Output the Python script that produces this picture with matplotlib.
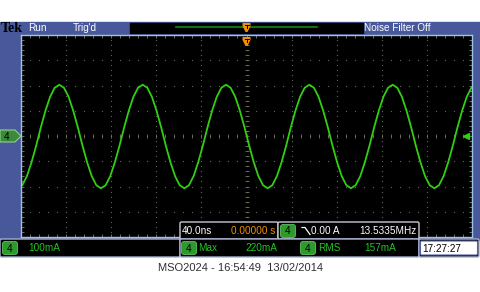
import numpy as np
import matplotlib.pyplot as plt
from matplotlib.patches import FancyBboxPatch, Rectangle, Polygon

# scope settings
ns_per_div = 40.0
ma_per_div = 100
n_xdiv = 10
n_ydiv = 8

# channel 4 trace, sampled every 1/18 of a period (mA)
t_start = -198.85
t_step = 4.106
trace_ma = [
    -195, -159, -104, -38, 34, 100, 155, 191, 203, 191, 155, 100, 34, -38, -104, -159, -195, -207,
    -195, -159, -104, -38, 34, 100, 155, 191, 203, 191, 155, 100, 34, -38, -104, -159, -195, -207,
    -195, -159, -104, -38, 34, 100, 155, 191, 203, 191, 155, 100, 34, -38, -104, -159, -195, -207,
    -195, -159, -104, -38, 34, 100, 155, 191, 203, 191, 155, 100, 34, -38, -104, -159, -195, -207,
    -195, -159, -104, -38, 34, 100, 155, 191, 203, 191, 155, 100, 34, -38, -104, -159, -195, -207,
    -195, -159, -104, -38, 34, 100, 155, 191, 203,
]
t_ns = t_start + t_step * np.arange(len(trace_ma))

# readouts
status_left = ['Run', "Trig'd"]
status_right = 'Noise Filter Off'
ch_label = '4'
ch_scale = '100mA'
meas_names = ['Max', 'RMS']
meas_values = ['220mA', '157mA']
timebase = '40.0ns'
trig_pos = '0.00000 s'
trig_level = '0.00 A'
trig_freq = '13.5335MHz'
clock = '17:27:27'
caption = 'MSO2024 - 16:54:49  13/02/2014'

BLUE = '#48589a'
TRACE = '#30d010'
PILL = '#2e9a2e'
GTEXT = '#22c422'
ORANGE = '#f09000'
NARROW = ['Liberation Sans Narrow', 'Liberation Sans']
FS = 7.2

fig = plt.figure(figsize=(4.8, 2.92), dpi=100)
fig.patch.set_facecolor('white')

# background layer in pixel coords (y down)
bg = fig.add_axes([0, 0, 1, 1], zorder=0)
bg.set_xlim(0, 480)
bg.set_ylim(292, 0)
bg.axis('off')
bg.add_patch(Rectangle((0, 22), 480, 218, color=BLUE))
bg.add_patch(Rectangle((130, 23), 233, 10, color='black'))
bg.plot([176, 317], [27, 27], color='#108a10', lw=1.2)
bg.text(1, 28, 'Tek', family='Liberation Serif', weight='bold', fontsize=10,
        color='black', va='center')
bg.text(28, 28, status_left[0], family=NARROW, fontsize=FS, color='white', va='center')
bg.text(73, 28, status_left[1], family=NARROW, fontsize=FS, color='white', va='center')
bg.text(364, 28, status_right, family=NARROW, fontsize=FS, color='white', va='center')

# graticule
ax = fig.add_axes([21 / 480, 1 - 237 / 292, 451 / 480, 202 / 292], zorder=1)
ax.set_facecolor('black')
xmax = ns_per_div * n_xdiv / 2
ymax = ma_per_div * n_ydiv / 2
ax.set_xlim(-xmax, xmax)
ax.set_ylim(-ymax, ymax)
for s in ax.spines.values():
    s.set_color('#9cc4e4')
    s.set_linewidth(1.0)
ax.set_xticks(np.arange(-xmax, xmax + 1, ns_per_div / 5))
ax.set_yticks(np.arange(-ymax, ymax + 1, ma_per_div / 5))
ax.tick_params(direction='in', length=2.5, width=0.7, color='#707070',
               top=True, right=True, labelbottom=False, labelleft=False)

minor_x = np.arange(-xmax, xmax + 1, ns_per_div / 5)
minor_y = np.arange(-ymax, ymax + 1, ma_per_div / 5)
for gx in np.arange(-xmax + ns_per_div, xmax, ns_per_div):
    ax.plot(np.full_like(minor_y, gx), minor_y, ls='', marker='s', ms=0.8,
            mew=0, color='#606060')
for gy in np.arange(-ymax + ma_per_div, ymax, ma_per_div):
    ax.plot(minor_x, np.full_like(minor_x, gy), ls='', marker='s', ms=0.8,
            mew=0, color='#606060')
ax.plot(minor_x, np.zeros_like(minor_x), ls='', marker='|', ms=3, mew=0.6,
        color='#77775a')
ax.plot(np.zeros_like(minor_y), minor_y, ls='', marker='_', ms=3, mew=0.6,
        color='#77775a')

ax.plot(t_ns, trace_ma, color=TRACE, lw=1.3, solid_joinstyle='round')
ax.plot([xmax * 0.975], [0], marker='<', ms=5, color=TRACE, clip_on=False)

# foreground layer
fg = fig.add_axes([0, 0, 1, 1], zorder=2)
fg.set_xlim(0, 480)
fg.set_ylim(292, 0)
fg.axis('off')
fg.patch.set_alpha(0)


def box(x0, y0, x1, y1, edge='#c8c8d4'):
    fg.add_patch(FancyBboxPatch((x0 + 1.5, y0 + 1.5), x1 - x0 - 3, y1 - y0 - 3,
                                boxstyle='round,pad=1.5', fc='black', ec=edge, lw=1))


def pill(x0, yc):
    fg.add_patch(FancyBboxPatch((x0 + 3, yc - 4), 10, 8, boxstyle='round,pad=2.5',
                                fc=PILL, ec='#60c060', lw=0.6))
    fg.text(x0 + 8, yc + 0.5, ch_label, family=NARROW, fontsize=FS, color='black',
            ha='center', va='center')


# channel marker on the left
fg.add_patch(Polygon([(0, 130), (15, 130), (21, 136), (15, 142), (0, 142)],
                     closed=True, fc='#3a8a3a', ec='#90d090', lw=0.8))
fg.text(7, 136.5, ch_label, family=NARROW, fontsize=FS, color='black',
        ha='center', va='center')

# trigger position markers
cx = 246.5
for y0 in (23, 37):
    fg.add_patch(Polygon([(cx - 4, y0), (cx + 4, y0), (cx + 4, y0 + 3), (cx + 1, y0 + 9),
                          (cx - 1, y0 + 9), (cx - 4, y0 + 3)], closed=True,
                         fc=ORANGE, ec='none'))
    fg.plot([cx - 2, cx + 2, cx, cx], [y0 + 2, y0 + 2, y0 + 2, y0 + 5],
            color='black', lw=0.7)

# info row over the graticule
box(180, 222, 278, 239)
fg.text(182, 231, timebase, family=NARROW, fontsize=FS, color='white', va='center')
fg.text(275, 231, trig_pos, family=NARROW, fontsize=FS, color=ORANGE,
        va='center', ha='right')
box(278, 222, 419, 239)
pill(280, 231)
fg.plot([302, 305, 310], [227.5, 227.5, 234.5], color='white', lw=0.9)
fg.text(311, 231, trig_level, family=NARROW, fontsize=FS, color='white', va='center')
fg.text(417, 231, trig_freq, family=NARROW, fontsize=FS, color='white',
        va='center', ha='right')

# bottom row
box(0, 239, 180, 257, edge='#a8b0d0')
pill(2, 248)
fg.text(28, 248, ch_scale, family=NARROW, fontsize=FS, color=GTEXT, va='center')
box(180, 239, 419, 257, edge='#a8b0d0')
pill(181, 248)
fg.text(198, 248, meas_names[0], family=NARROW, fontsize=FS, color=GTEXT, va='center')
fg.text(245, 248, meas_values[0], family=NARROW, fontsize=FS, color=GTEXT, va='center')
pill(300, 248)
fg.text(318, 248, meas_names[1], family=NARROW, fontsize=FS, color=GTEXT, va='center')
fg.text(364, 248, meas_values[1], family=NARROW, fontsize=FS, color=GTEXT, va='center')
box(419, 239, 479, 257, edge='#a8b0d0')
fg.add_patch(Rectangle((420, 240.5), 58, 15, fc='white', ec='none', zorder=0.5))
fg.add_patch(FancyBboxPatch((421.5, 242), 55, 12, boxstyle='round,pad=1',
                            fc='white', ec='#5060a0', lw=0.8))
fg.text(422, 248.5, clock, family=NARROW, fontsize=FS, color='black', va='center')

fig.text(0.5, 1 - 268 / 292, caption, family='Liberation Sans', fontsize=8,
         color='#303030', ha='center', va='center')

fig.savefig('out.png', dpi=100)
